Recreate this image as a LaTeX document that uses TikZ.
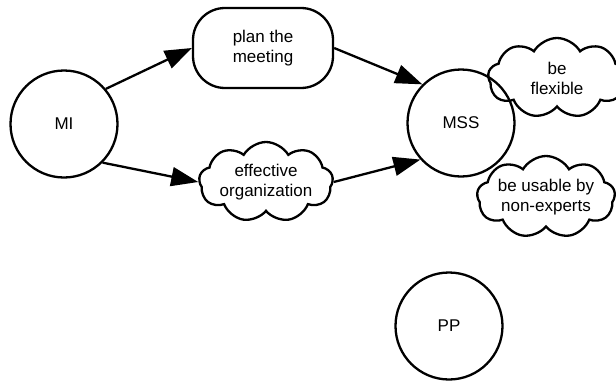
\documentclass[tikz,border=0pt]{standalone}
\usepackage{fontspec}
\setmainfont{Liberation Sans}
\usetikzlibrary{shapes.symbols,arrows.meta}
\begin{document}
\begin{tikzpicture}[x=1pt,y=-1pt,
  every node/.style={font=\fontsize{17}{20}\selectfont, align=center, line width=2.3pt},
  actor/.style={draw, circle, minimum size=107pt, inner sep=0pt},
  goal/.style={draw, rectangle, rounded corners=32pt, minimum width=140pt, minimum height=80pt},
  soft/.style={draw, cloud, cloud puffs=9, cloud puff arc=120, cloud ignores aspect, inner sep=0pt},
  link/.style={line width=2.3pt, -{Triangle[length=27pt,width=19pt]}}]
\useasboundingbox (0,0) rectangle (616,383);
\node[actor] (mi) at (64,124) {MI};
\node[actor] (mss) at (461,123) {MSS};
\node[actor] (pp) at (449,326) {PP};
\node[goal] (plan) at (263,48) {plan the\\meeting};
\node[soft, minimum width=134pt, minimum height=80pt] (org) at (266,182) {effective\\organization};
\node[soft, minimum width=138pt, minimum height=80pt] (flex) at (557,78) {be\\flexible};
\node[soft, minimum width=136pt, minimum height=82pt] (usable) at (546,197) {be usable by\\non-experts};
\draw[link] (mi.40) -- (plan.west);
\draw[link] (mi.-45) -- (org.west);
\draw[link] (plan.east) -- (mss.135);
\draw[link] (org.east) -- (mss.222);
\end{tikzpicture}
\end{document}
